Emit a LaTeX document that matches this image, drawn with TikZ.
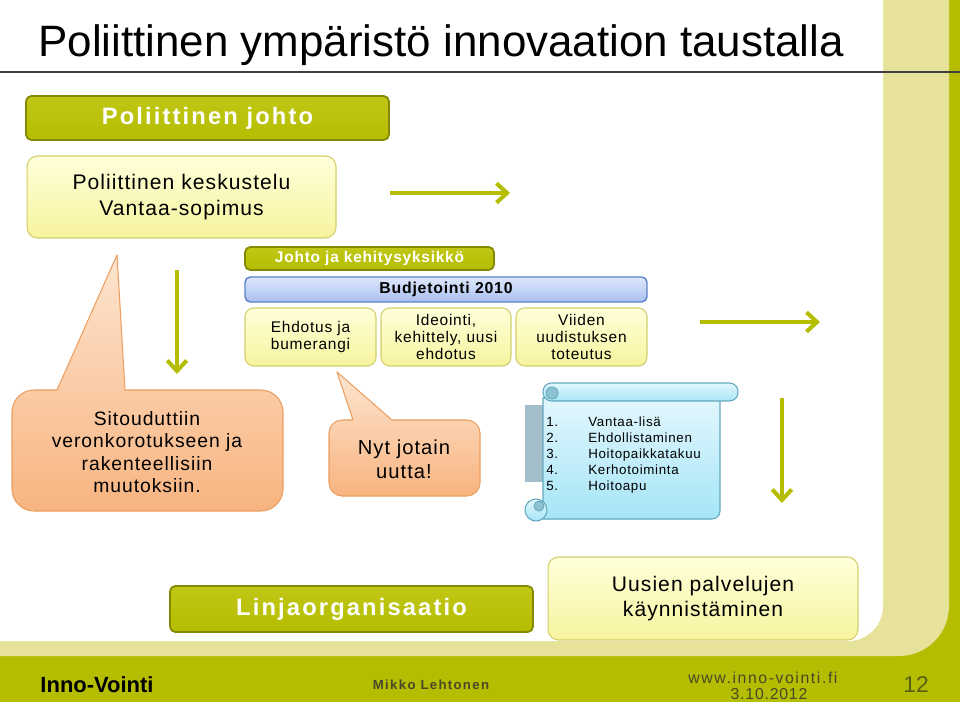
\documentclass[tikz,border=0pt]{standalone}
\usepackage{fontspec}
\setmainfont{Liberation Sans}[LetterSpace=5]
\newfontfamily\titlefont{Liberation Sans}
\newfontfamily\widefont{Liberation Sans}[LetterSpace=9]
\newfontfamily\footfont{Liberation Sans}[LetterSpace=10]
\usetikzlibrary{arrows.meta}

\newcommand{\kirj}[2]{\fontsize{#1}{#2}\selectfont}

\definecolor{oliivi}{RGB}{181,189,0}
\definecolor{oliiviyla}{RGB}{192,199,22}
\definecolor{oliivireuna}{RGB}{132,138,0}
\definecolor{vaalea}{RGB}{230,226,154}
\definecolor{keltyla}{RGB}{255,255,218}
\definecolor{keltala}{RGB}{246,244,158}
\definecolor{keltreuna}{RGB}{212,206,108}
\definecolor{sinyla}{RGB}{222,232,252}
\definecolor{sinala}{RGB}{168,191,240}
\definecolor{sinreuna}{RGB}{88,128,200}
\definecolor{orayla}{RGB}{253,229,208}
\definecolor{oraala}{RGB}{248,180,128}
\definecolor{orareuna}{RGB}{236,158,96}
\definecolor{rullayla}{RGB}{226,247,253}
\definecolor{rullaala}{RGB}{166,229,247}
\definecolor{rullareuna}{RGB}{100,168,190}
\definecolor{rullatumma}{RGB}{140,194,210}
\definecolor{rullaharmaa}{RGB}{163,190,202}
\definecolor{alateksti}{RGB}{72,72,40}
\definecolor{sivunro}{RGB}{92,96,20}

\tikzset{
  olivebox/.style={draw=oliivireuna, line width=1pt, rounded corners=3pt,
    top color=oliiviyla, bottom color=oliivi, text=white, inner sep=0pt},
  keltbox/.style={draw=keltreuna, line width=0.6pt, rounded corners=5pt,
    top color=keltyla, bottom color=keltala, align=center, inner sep=0pt},
  sinbox/.style={draw=sinreuna, line width=0.8pt, rounded corners=3pt,
    top color=sinyla, bottom color=sinala, inner sep=0pt},
  kupla/.style={draw=orareuna, line width=0.6pt, line join=round, top color=orayla, bottom color=oraala},
  rulla/.style={draw=rullareuna, line width=0.6pt, top color=rullayla, bottom color=rullaala},
  nuoli/.style={draw=oliivi, line width=2.3pt, -{Straight Barb[length=6pt,width=11pt]}},
}

\begin{document}
\begin{tikzpicture}[x=0.02cm,y=-0.02cm]
  \useasboundingbox (0,0) rectangle (960,702);
  % Tausta
  \fill[oliivi] (0,0) rectangle (960,702);
  \fill[vaalea] (0,0) -- (949,0) -- (949,300) [rounded corners=1cm] -- (949,656)
    -- (500,656) [sharp corners] -- (0,656) -- cycle;
  \fill[white] (0,0) -- (883,0) -- (883,300) [rounded corners=0.7cm] -- (883,641)
    -- (500,641) [sharp corners] -- (0,641) -- cycle;
  \draw[black!75, line width=0.9pt] (0,72) -- (960,72);
  % Otsikko
  \node[anchor=base west, inner sep=0pt, font=\titlefont\kirj{25}{30}] (otsikko) at (38,57)
    {Poliittinen ympäristö innovaation taustalla};

  % Poliittinen taso
  \node[olivebox, minimum width=7.26cm, minimum height=0.88cm,
    font=\widefont\bfseries\kirj{13.5}{16}] (johto) at (207.5,118) {Poliittinen johto};
  \node[keltbox, rounded corners=6pt, minimum width=6.18cm, minimum height=1.64cm,
    font=\kirj{12}{14.7}] (keskustelu) at (181.5,197)
    {Poliittinen keskustelu\\Vantaa-sopimus};

  % Johto ja kehitysyksikkö
  \node[olivebox, minimum width=4.98cm, minimum height=0.46cm,
    font=\bfseries\kirj{8.8}{10}] (kehitys) at (369.5,258.5) {Johto ja kehitysyksikkö};
  \node[sinbox, minimum width=8.04cm, minimum height=0.5cm,
    font=\bfseries\kirj{9}{10}] (budjetointi) at (446,289.5) {Budjetointi 2010};
  \node[keltbox, minimum width=2.62cm, minimum height=1.16cm,
    font=\kirj{8.8}{9.6}] (ehdotus) at (310.5,337) {Ehdotus ja\\bumerangi};
  \node[keltbox, minimum width=2.6cm, minimum height=1.16cm,
    font=\kirj{8.8}{9.6}] (ideointi) at (446,337) {Ideointi,\\kehittely, uusi\\ehdotus};
  \node[keltbox, minimum width=2.62cm, minimum height=1.16cm,
    font=\kirj{8.8}{9.6}] (viiden) at (581.5,337) {Viiden\\uudistuksen\\toteutus};

  % Puhekuplat
  \path[kupla] (125,390) -- (261,390) .. controls (273,390) and (283,400) .. (283,412)
    -- (283,489) .. controls (283,501) and (273,511) .. (261,511)
    -- (34,511) .. controls (22,511) and (12,501) .. (12,489)
    -- (12,412) .. controls (12,400) and (22,390) .. (34,390)
    -- (57,390) -- (117,255) -- cycle;
  \node[align=center, inner sep=0pt, font=\kirj{11}{12.8}] (sitoutuminen) at (147,452)
    {Sitouduttiin\\veronkorotukseen ja\\rakenteellisiin\\muutoksiin.};
  \path[kupla] (392,420) -- (467,420) .. controls (474,420) and (480,426) .. (480,433)
    -- (480,483) .. controls (480,490) and (474,496) .. (467,496)
    -- (342,496) .. controls (335,496) and (329,490) .. (329,483)
    -- (329,433) .. controls (329,426) and (335,420) .. (342,420)
    -- (353,420) -- (337,372) -- cycle;
  \node[align=center, inner sep=0pt, font=\kirj{11.5}{13.6}] (uutta) at (404,459)
    {Nyt jotain\\uutta!};

  % Kaarikirje
  \fill[rullaharmaa] (525,405) rectangle (543,482);
  \path[rulla] (543,398) -- (720,398) -- (720,470) [rounded corners=0.16cm] -- (720,519)
    -- (600,519) [sharp corners] -- (543,519) -- cycle;
  \path[rulla] (536,510) circle[radius=11];
  \path[fill=rullatumma, draw=rullareuna, line width=0.5pt] (539,506) circle[radius=5];
  \path[rulla, rounded corners=0.17cm] (543,383) rectangle (738,401);
  \path[fill=rullatumma, draw=rullareuna, line width=0.5pt] (552,393) circle[radius=6];
  \node[anchor=west, align=left, inner sep=0pt, font=\kirj{7.6}{9.07}] (lista) at (546,455)
    {\makebox[0.84cm][l]{1.}Vantaa-lisä\\
     \makebox[0.84cm][l]{2.}Ehdollistaminen\\
     \makebox[0.84cm][l]{3.}Hoitopaikkatakuu\\
     \makebox[0.84cm][l]{4.}Kerhotoiminta\\
     \makebox[0.84cm][l]{5.}Hoitoapu};

  % Linjaorganisaatio
  \node[olivebox, minimum width=7.26cm, minimum height=0.92cm,
    font=\widefont\bfseries\kirj{13.5}{16}] (linja) at (351.5,609) {Linjaorganisaatio};
  \node[keltbox, rounded corners=6pt, minimum width=6.2cm, minimum height=1.66cm,
    font=\kirj{12}{14.7}] (palvelut) at (703,598.5)
    {Uusien palvelujen\\käynnistäminen};

  % Nuolet
  \coordinate (n1a) at (390,193);
  \coordinate (n1b) at (510,193);
  \coordinate (n2a) at (700,322);
  \coordinate (n2b) at (820,322);
  \coordinate (n3a) at (177,270);
  \coordinate (n3b) at (177,374);
  \coordinate (n4a) at (782,398);
  \coordinate (n4b) at (782,503);
  \draw[nuoli] (n1a) -- (n1b);
  \draw[nuoli] (n2a) -- (n2b);
  \draw[nuoli] (n3a) -- (n3b);
  \draw[nuoli] (n4a) -- (n4b);

  % Alatunniste
  \node[font=\titlefont\bfseries\kirj{12.5}{15}] (brandi) at (97,685) {Inno-Vointi};
  \node[text=alateksti, font=\footfont\bfseries\kirj{7.5}{9}] (tekija) at (431,685) {Mikko Lehtonen};
  \node[text=alateksti, inner sep=0pt, font=\footfont\kirj{9}{10}] (osoite) at (763,678) {www.inno-vointi.fi};
  \node[text=alateksti, inner sep=0pt, font=\kirj{9}{10}] (pvm) at (769,694) {3.10.2012};
  \node[text=sivunro, font=\titlefont\kirj{13}{15}] (sivu) at (916,685) {12};
\end{tikzpicture}
\end{document}
